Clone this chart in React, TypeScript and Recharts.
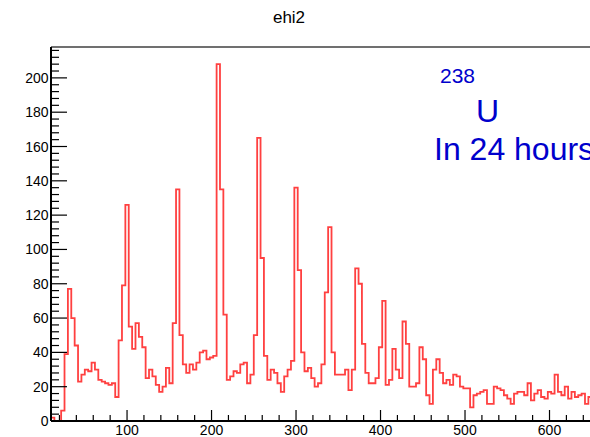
import React from 'react';
import { LineChart, Line, XAxis, YAxis, ReferenceLine } from 'recharts';

// histogram "ehi2": energy spectrum, 4-unit bins starting at 10
const binStart = 10;
const binWidth = 4;

const counts: number[] = [
  2, 0, 0, 6, 39, 77, 60, 44, 23, 27,
  30, 29, 34, 30, 24, 23, 22, 21, 22, 14,
  47, 79, 126, 55, 42, 57, 49, 43, 25, 30,
  26, 21, 17, 20, 31, 22, 57, 135, 50, 33,
  28, 33, 30, 34, 40, 41, 36, 37, 38, 208,
  135, 62, 24, 26, 29, 28, 33, 34, 22, 27,
  50, 165, 95, 38, 24, 30, 28, 22, 17, 26,
  30, 35, 136, 88, 40, 29, 31, 25, 20, 22,
  33, 75, 113, 40, 27, 27, 27, 30, 18, 30,
  89, 80, 45, 28, 22, 22, 25, 43, 70, 21,
  24, 42, 30, 25, 58, 45, 20, 20, 22, 43,
  36, 15, 10, 30, 36, 28, 22, 24, 21, 27,
  26, 20, 19, 19, 8, 15, 16, 17, 18, 10,
  10, 20, 19, 18, 15, 13, 10, 16, 17, 17,
  15, 22, 12, 16, 18, 14, 13, 17, 16, 27,
  17, 15, 20, 13, 17, 14, 15, 16, 10, 14,
];

const xDomain: [number, number] = [10, 700];
const yDomain: [number, number] = [0, 218];
const xTicks = Array.from({ length: 35 }, (_, i) => 20 + i * 20); // minor every 20, major every 100
const yTicks = Array.from({ length: 55 }, (_, i) => i * 4); // minor every 4, major every 20

const title = 'ehi2';
const isotopeMass = '238';
const isotope = 'U';
const note = 'In 24 hours';

// step line needs a closing point at the upper edge of the last bin
const data = [
  ...counts.map((c, i) => ({ x: binStart + i * binWidth, count: c })),
  { x: binStart + counts.length * binWidth, count: counts[counts.length - 1] },
];

const FONT = '"Liberation Sans", Arial, Helvetica, sans-serif';

const XTick = (props: any) => {
  const { x, y, payload } = props;
  const major = payload.value % 100 === 0;
  return (
    <g>
      <line x1={x} x2={x} y1={y} y2={y - (major ? 11 : 6)} stroke="#000" strokeWidth={1.2} />
      {major && (
        <text x={x} y={y + 14} textAnchor="middle" fontSize={14} fontFamily={FONT} fill="#000">
          {payload.value}
        </text>
      )}
    </g>
  );
};

const YTick = (props: any) => {
  const { x, y, payload } = props;
  const major = payload.value % 20 === 0;
  return (
    <g>
      <line x1={x} x2={x + (major ? 16 : 8)} y1={y} y2={y} stroke="#000" strokeWidth={1.2} />
      {major && (
        <text x={x - 2.5} y={y + 5} textAnchor="end" fontSize={14} fontFamily={FONT} fill="#000">
          {payload.value}
        </text>
      )}
    </g>
  );
};

export default function App() {
  return (
    <div
      style={{
        position: 'absolute',
        left: 0,
        top: 0,
        width: 590,
        height: 437,
        overflow: 'hidden',
        background: '#fff',
        fontFamily: FONT,
      }}
    >
      <LineChart
        width={640}
        height={437}
        data={data}
        margin={{ top: 47, right: 6, bottom: 0, left: 6 }}
      >
        <XAxis
          dataKey="x"
          type="number"
          domain={xDomain}
          allowDataOverflow
          ticks={xTicks}
          interval={0}
          tickSize={0}
          tickMargin={0}
          tickLine={false}
          tick={<XTick />}
          height={16}
          axisLine={{ stroke: '#000', strokeWidth: 2 }}
        />
        <YAxis
          type="number"
          domain={yDomain}
          allowDataOverflow
          ticks={yTicks}
          interval={0}
          tickSize={0}
          tickMargin={0}
          tickLine={false}
          tick={<YTick />}
          width={45}
          axisLine={{ stroke: '#000', strokeWidth: 2 }}
        />
        <ReferenceLine y={218} stroke="#707070" strokeWidth={2} />
        <Line
          type="stepAfter"
          dataKey="count"
          stroke="#ff4040"
          strokeWidth={1.8}
          dot={false}
          isAnimationActive={false}
        />
      </LineChart>
      <svg
        width={590}
        height={437}
        style={{ position: 'absolute', left: 0, top: 0, pointerEvents: 'none' }}
      >
        <text x={289} y={23} textAnchor="middle" fontSize={17} fontFamily={FONT} fill="#000">
          {title}
        </text>
        <text x={440} y={83} fontSize={21} fontFamily={FONT} fill="#0000cc">
          {isotopeMass}
        </text>
        <text x={476} y={122} fontSize={32} fontFamily={FONT} fill="#0000cc">
          {isotope}
        </text>
        <text x={434} y={160} fontSize={32} fontFamily={FONT} fill="#0000cc">
          {note}
        </text>
      </svg>
    </div>
  );
}
